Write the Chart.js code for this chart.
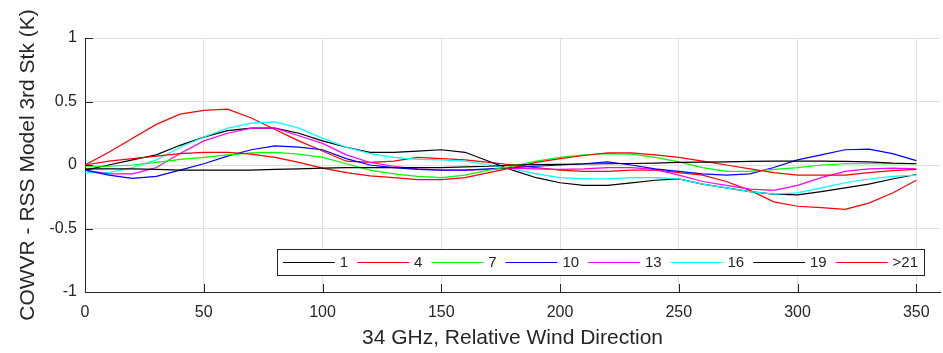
<!DOCTYPE html>
<html>
<head>
<meta charset="utf-8">
<script src="https://cdn.jsdelivr.net/npm/chart.js@4/dist/chart.umd.min.js"></script>
<style>
  html, body { margin: 0; padding: 0; background: #ffffff; }
  #wrap { width: 943px; height: 353px; position: relative; }
</style>
</head>
<body>
<div id="wrap"><canvas id="c" width="943" height="353"></canvas></div>
<script>
// ---- Data ----
const angles = [0,10,20,30,40,50,60,70,80,90,100,110,120,130,140,150,160,170,180,190,200,210,220,230,240,250,260,270,280,290,300,310,320,330,340,350];
const seriesLabels = ['1','4','7','10','13','16','19','>21'];
const s1  = [-0.03,-0.03,-0.03,-0.035,-0.04,-0.04,-0.04,-0.04,-0.035,-0.03,-0.025,-0.02,-0.02,-0.02,-0.02,-0.02,-0.015,-0.01,0.0,0.003,0.005,0.008,0.01,0.012,0.015,0.02,0.022,0.025,0.028,0.03,0.03,0.03,0.028,0.025,0.015,0.01];
const s4  = [0.0,0.03,0.05,0.07,0.09,0.10,0.10,0.085,0.06,0.02,-0.025,-0.06,-0.085,-0.10,-0.115,-0.115,-0.10,-0.06,-0.02,0.02,0.05,0.075,0.095,0.095,0.08,0.06,0.03,0.0,-0.03,-0.06,-0.08,-0.08,-0.08,-0.06,-0.045,-0.035];
const s7  = [-0.01,-0.01,0.0,0.02,0.045,0.06,0.08,0.095,0.10,0.085,0.06,0.01,-0.04,-0.07,-0.09,-0.10,-0.08,-0.04,-0.01,0.03,0.06,0.08,0.09,0.085,0.06,0.025,-0.02,-0.05,-0.05,-0.035,-0.02,0.0,0.01,0.01,0.01,0.01];
const s10 = [-0.04,-0.08,-0.105,-0.09,-0.04,0.01,0.07,0.12,0.15,0.14,0.12,0.05,0.0,-0.02,-0.035,-0.04,-0.04,-0.03,-0.02,-0.01,0.0,0.01,0.025,0.0,-0.03,-0.05,-0.07,-0.08,-0.07,-0.02,0.04,0.08,0.12,0.125,0.09,0.035];
const s13 = [-0.04,-0.07,-0.07,-0.02,0.09,0.19,0.25,0.29,0.29,0.23,0.17,0.08,0.02,-0.01,-0.03,-0.04,-0.04,-0.035,-0.025,-0.03,-0.035,-0.03,-0.02,-0.02,-0.035,-0.08,-0.13,-0.16,-0.19,-0.20,-0.16,-0.10,-0.05,-0.03,-0.025,-0.03];
const s16 = [-0.06,-0.06,-0.02,0.04,0.14,0.22,0.29,0.33,0.34,0.29,0.21,0.14,0.09,0.06,0.045,0.04,0.03,0.0,-0.03,-0.07,-0.10,-0.11,-0.11,-0.10,-0.10,-0.11,-0.15,-0.18,-0.21,-0.23,-0.22,-0.18,-0.14,-0.11,-0.09,-0.08];
const s19 = [-0.04,0.0,0.04,0.08,0.155,0.22,0.27,0.29,0.29,0.25,0.19,0.14,0.10,0.10,0.11,0.12,0.10,0.03,-0.04,-0.10,-0.14,-0.16,-0.16,-0.14,-0.12,-0.11,-0.15,-0.18,-0.21,-0.23,-0.235,-0.21,-0.18,-0.15,-0.11,-0.075];
const s21 = [0.0,0.10,0.21,0.32,0.40,0.43,0.44,0.37,0.28,0.19,0.11,0.03,0.02,0.03,0.06,0.05,0.04,0.02,0.0,-0.02,-0.04,-0.05,-0.05,-0.04,-0.04,-0.06,-0.08,-0.13,-0.20,-0.29,-0.325,-0.335,-0.35,-0.30,-0.22,-0.12];
const xTicks = [0,50,100,150,200,250,300,350];
const yTicks = [-1,-0.5,0,0.5,1];
const seriesValues = [s1,s4,s7,s10,s13,s16,s19,s21];
const seriesColors = ['#000000','#ff0000','#00ff00','#0000ff','#ff00ff','#00ffff','#000000','#ff0000'];

const textColor = '#262626';
const fontFam = '"Liberation Sans", Arial, Helvetica, sans-serif';

const datasets = seriesValues.map((vals, i) => ({
  label: seriesLabels[i],
  data: vals.map((v, j) => ({x: angles[j], y: v})),
  borderColor: seriesColors[i],
  backgroundColor: seriesColors[i],
  borderWidth: 1.2,
  pointRadius: 0,
  tension: 0,
  fill: false
}));

// inward tick marks
const tickMarks = {
  id: 'tickMarks',
  afterDatasetsDraw(chart) {
    const {ctx, chartArea, scales} = chart;
    ctx.save();
    ctx.strokeStyle = textColor;
    ctx.lineWidth = 1;
    ctx.beginPath();
    xTicks.forEach(v => {
      const x = Math.round(scales.x.getPixelForValue(v)) + 0.5;
      ctx.moveTo(x, chartArea.bottom);
      ctx.lineTo(x, chartArea.bottom - 8);
    });
    yTicks.forEach(v => {
      const y = Math.round(scales.y.getPixelForValue(v)) + 0.5;
      ctx.moveTo(chartArea.left, y);
      ctx.lineTo(chartArea.left + 8, y);
    });
    ctx.stroke();
    ctx.restore();
  }
};

// legend boxed inside the plot area (bottom right)
const innerLegend = {
  id: 'innerLegend',
  afterDatasetsDraw(chart) {
    const {ctx} = chart;
    const ds = chart.data.datasets;
    const x0 = 277, x1 = 924, y0 = 249, y1 = 275;
    const yc = (y0 + y1) / 2;
    ctx.save();
    ctx.font = '15px ' + fontFam;
    const widths = ds.map(d => ctx.measureText(d.label).width);
    const padL = 6, padR = 6, g1 = 5, g2 = 9;
    const sumText = widths.reduce((a, b) => a + b, 0);
    const L = (x1 - x0 - padL - padR - sumText - ds.length * g1 - (ds.length - 1) * g2) / ds.length;
    ctx.fillStyle = '#ffffff';
    ctx.fillRect(x0, y0, x1 - x0, y1 - y0);
    ctx.strokeStyle = textColor;
    ctx.lineWidth = 1;
    ctx.strokeRect(x0 + 0.5, y0 + 0.5, x1 - x0, y1 - y0);
    let x = x0 + padL;
    ds.forEach((d, i) => {
      ctx.strokeStyle = d.borderColor;
      ctx.lineWidth = 1.2;
      ctx.beginPath();
      ctx.moveTo(x, yc + 0.5);
      ctx.lineTo(x + L, yc + 0.5);
      ctx.stroke();
      x += L + g1;
      ctx.fillStyle = textColor;
      ctx.textBaseline = 'middle';
      ctx.textAlign = 'left';
      ctx.fillText(d.label, x, yc + 1);
      x += widths[i] + g2;
    });
    ctx.restore();
  }
};

new Chart(document.getElementById('c'), {
  type: 'line',
  data: { datasets },
  plugins: [tickMarks, innerLegend],
  options: {
    responsive: false,
    animation: false,
    devicePixelRatio: 1,
    layout: { padding: { left: 0, right: 3, top: 38, bottom: 0 } },
    plugins: { legend: { display: false }, tooltip: { enabled: false }, title: { display: false } },
    scales: {
      x: {
        type: 'linear',
        min: 0, max: 360,
        afterBuildTicks(scale) { scale.ticks = xTicks.map(v => ({value: v})); },
        afterFit(scale) { scale.height = 61; },
        grid: { color: '#e0e0e0', lineWidth: 1, drawTicks: false },
        border: { display: true, color: textColor, width: 1 },
        ticks: { color: textColor, font: { family: fontFam, size: 16 }, padding: 11, maxRotation: 0,
                 callback: v => String(v) },
        title: { display: true, text: '34 GHz, Relative Wind Direction', color: textColor,
                 font: { family: fontFam, size: 21 }, padding: { top: 0, bottom: 2 } }
      },
      y: {
        min: -1, max: 1,
        afterBuildTicks(scale) { scale.ticks = yTicks.map(v => ({value: v})); },
        afterFit(scale) { scale.width = 85; },
        grid: { color: '#e0e0e0', lineWidth: 1, drawTicks: false },
        border: { display: true, color: textColor, width: 1 },
        ticks: { color: textColor, font: { family: fontFam, size: 16 }, padding: 8,
                 callback: v => String(v) },
        title: { display: true, text: 'COWVR - RSS Model 3rd Stk (K)', color: textColor,
                 font: { family: fontFam, size: 21 }, padding: { top: 16, bottom: 0 } }
      }
    }
  }
});
</script>
</body>
</html>
